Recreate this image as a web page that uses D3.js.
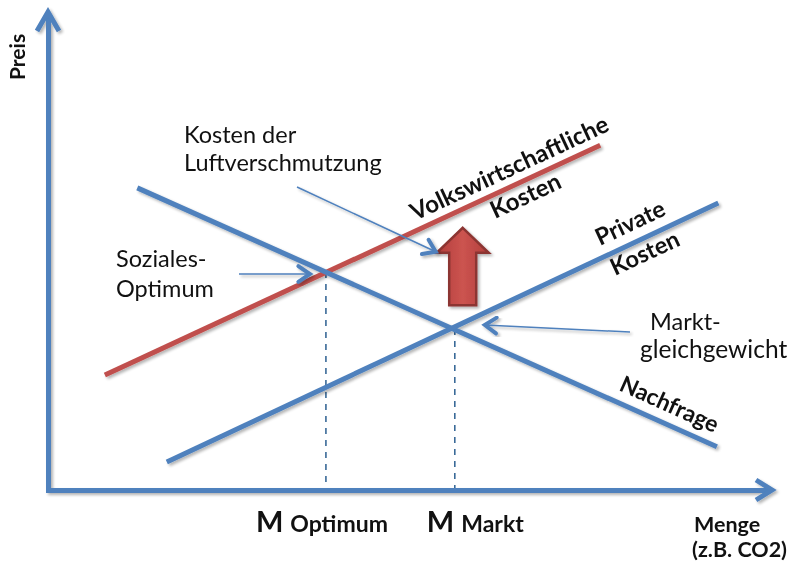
<!DOCTYPE html>
<html>
<head>
<meta charset="utf-8">
<script src="https://cdn.jsdelivr.net/npm/d3@7/dist/d3.min.js"></script>
<style>
  body { margin: 0; background: #fff; }
  text { font-family: Lato, "Open Sans", sans-serif; fill: #111; }
  .bold { font-weight: bold; }
</style>
</head>
<body>
<svg id="chart" width="800" height="575"></svg>
<script>
'use strict';

const nachfrage = [[12.4, 63.6], [92.9, 9.1]];
const privateKosten = [[16.5, 5.9], [93.1, 60.4]];
const volkswirtschaftlicheKosten = [[7.9, 24.2], [76.7, 72.6]];

const gleichgewichtNamen = ['Optimum', 'Markt'];
const gleichgewichtMenge = [38.6, 56.5];
const gleichgewichtPreis = [45.9, 33.9];

// Aufschlag durch Luftverschmutzung (grosser Pfeil)
const aufschlagMenge = 57.6;
const aufschlagPreis = [38.9, 55.2];

const blue = '#4f81bd',
  red = '#c0504d';

var svg = d3.select('#chart');
var x = d3.scaleLinear().domain([0, 100]).range([48, 768]);
var y = d3.scaleLinear().domain([0, 100]).range([490, 15]);

// Schatten
var defs = svg.append('defs');
var filter = defs.append('filter')
  .attr('id', 'shadow')
  .attr('x', '-10%').attr('y', '-10%')
  .attr('width', '130%').attr('height', '130%');
filter.append('feGaussianBlur')
  .attr('in', 'SourceAlpha')
  .attr('stdDeviation', 1.5)
  .attr('result', 'blur');
filter.append('feOffset')
  .attr('in', 'blur')
  .attr('dx', 2).attr('dy', 2)
  .attr('result', 'offsetBlur');
filter.append('feComponentTransfer')
  .attr('in', 'offsetBlur')
  .attr('result', 'faint')
  .append('feFuncA').attr('type', 'linear').attr('slope', 0.3);
var feMerge = filter.append('feMerge');
feMerge.append('feMergeNode').attr('in', 'faint');
feMerge.append('feMergeNode').attr('in', 'SourceGraphic');

var grad = defs.append('linearGradient')
  .attr('id', 'arrowFill')
  .attr('x1', 0).attr('x2', 1).attr('y1', 0).attr('y2', 0);
grad.append('stop').attr('offset', '0%').attr('stop-color', '#b23e3b');
grad.append('stop').attr('offset', '50%').attr('stop-color', '#cc5450');
grad.append('stop').attr('offset', '100%').attr('stop-color', '#b23e3b');

// Hilfslinien (gestrichelt)
svg.selectAll('.helper')
  .data(gleichgewichtMenge)
  .enter().append('line')
    .attr('class', 'helper')
    .attr('x1', d => x(d)).attr('x2', d => x(d))
    .attr('y1', (d, i) => y(gleichgewichtPreis[i]))
    .attr('y2', y(0))
    .attr('stroke', '#3a6a98')
    .attr('stroke-width', 1.6)
    .attr('stroke-dasharray', '6,6');

// Achsen
var axes = svg.append('g').attr('filter', 'url(#shadow)');
axes.append('g')
  .attr('transform', `translate(0,${y(0)})`)
  .call(d3.axisBottom(x).tickValues([]).tickSizeOuter(0));
axes.append('g')
  .attr('transform', `translate(${x(0)},0)`)
  .call(d3.axisLeft(y).tickValues([]).tickSizeOuter(0));
axes.selectAll('.domain')
  .attr('stroke', blue)
  .attr('stroke-width', 5)
  .attr('stroke-linecap', 'square');

axes.append('path')
  .attr('d', `M${x(0)},${y(100)}V12M${x(0) - 11},31L${x(0)},12L${x(0) + 11},31`)
  .attr('fill', 'none').attr('stroke', blue).attr('stroke-width', 5)
  .attr('stroke-linejoin', 'miter');
axes.append('path')
  .attr('d', `M${x(100)},${y(0)}H772M756,${y(0) - 10}L772,${y(0)}L756,${y(0) + 10}`)
  .attr('fill', 'none').attr('stroke', blue).attr('stroke-width', 5)
  .attr('stroke-linejoin', 'miter');

// Kurven
var line = d3.line().x(d => x(d[0])).y(d => y(d[1]));
var kurven = svg.append('g').attr('filter', 'url(#shadow)');
[[volkswirtschaftlicheKosten, red], [nachfrage, blue], [privateKosten, blue]]
  .forEach(([data, color]) => {
    kurven.append('path')
      .attr('d', line(data))
      .attr('fill', 'none')
      .attr('stroke', color)
      .attr('stroke-width', 5);
  });

// grosser Pfeil nach oben
var ax = x(aufschlagMenge),
  ay0 = y(aufschlagPreis[0]),
  ay1 = y(aufschlagPreis[1]),
  headH = 25, headW = 26, shaftW = 13.5;
svg.append('path')
  .attr('filter', 'url(#shadow)')
  .attr('d', `M${ax},${ay1}L${ax + headW},${ay1 + headH}H${ax + shaftW}V${ay0}` +
    `H${ax - shaftW}V${ay1 + headH}H${ax - headW}Z`)
  .attr('fill', 'url(#arrowFill)')
  .attr('stroke', '#8c3532')
  .attr('stroke-width', 2.5)
  .attr('stroke-linejoin', 'miter');

// Hinweispfeile
function pointer (x0, y0, x1, y1) {
  var a = Math.atan2(y1 - y0, x1 - x0),
    len = 14, spread = 0.6;
  var g = svg.append('g').attr('filter', 'url(#shadow)');
  g.append('line')
    .attr('x1', x0).attr('y1', y0).attr('x2', x1).attr('y2', y1)
    .attr('stroke', blue).attr('stroke-width', 1.5);
  g.append('path')
    .attr('d', `M${x1 - len * Math.cos(a - spread)},${y1 - len * Math.sin(a - spread)}` +
      `L${x1},${y1}L${x1 - len * Math.cos(a + spread)},${y1 - len * Math.sin(a + spread)}`)
    .attr('fill', 'none')
    .attr('stroke', blue)
    .attr('stroke-width', 4)
    .attr('stroke-linecap', 'round');
}
pointer(239, 274, x(gleichgewichtMenge[0]) - 16, y(gleichgewichtPreis[0]) + 2);
pointer(630, 332, x(gleichgewichtMenge[1]) + 30, y(gleichgewichtPreis[1]) - 4);
pointer(297, 187, ax - headW - 1, ay1 + headH - 1);

// Texte
function label (txt, px, py, size, cls, rotate) {
  return svg.append('text')
    .attr('class', cls || null)
    .attr('transform', `translate(${px},${py})` + (rotate ? ` rotate(${rotate})` : ''))
    .attr('font-size', size)
    .text(txt);
}

label('Preis', 25, 80, 21, 'bold', -90);
label('Kosten der', 184, 143, 23.5);
label('Luftverschmutzung', 184, 171, 23.5);
label('Soziales-', 116, 267, 23.5);
label('Optimum', 116, 297, 23.5);
label('Markt-', 650, 330, 23.5);
label('gleichgewicht', 640, 358, 24.5);
label('Menge', 694, 532, 21.5, 'bold');
label('(z.B. CO2)', 692, 557, 21.5, 'bold');

function angleOf (data) {
  return Math.atan2(y(data[1][1]) - y(data[0][1]), x(data[1][0]) - x(data[0][0])) * 180 / Math.PI;
}
label('Volkswirtschaftliche', 415, 221, 24, 'bold', angleOf(volkswirtschaftlicheKosten));
label('Kosten', 495, 219, 24, 'bold', angleOf(volkswirtschaftlicheKosten));
label('Private', 600, 246, 23.5, 'bold', angleOf(privateKosten));
label('Kosten', 615, 276, 23.5, 'bold', angleOf(privateKosten));
label('Nachfrage', 618, 390, 23, 'bold', angleOf(nachfrage));

// Mengen-Beschriftung
var mLabelDx = [-70, -28];
gleichgewichtNamen.forEach((name, i) => {
  var t = svg.append('text')
    .attr('class', 'bold')
    .attr('x', x(gleichgewichtMenge[i]) + mLabelDx[i])
    .attr('y', 532);
  t.append('tspan').attr('font-size', 29).text('M');
  t.append('tspan').attr('font-size', 23).attr('dx', 7).text(name);
});
</script>
</body>
</html>
